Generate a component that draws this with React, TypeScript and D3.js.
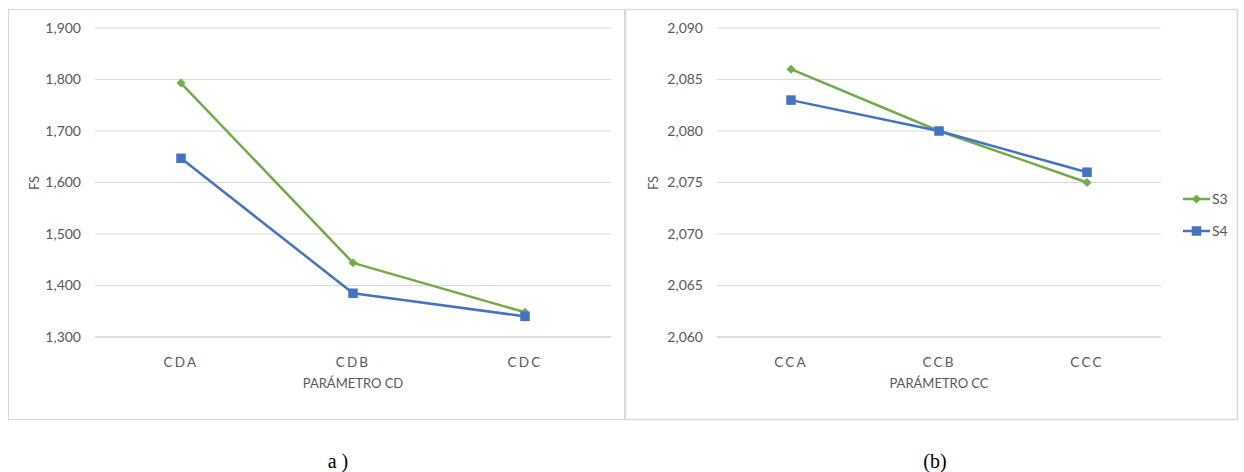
import React from "react";
import * as d3 from "d3";

const catsA = ["CDA", "CDB", "CDC"];
const s3A = [1.793, 1.444, 1.348];
const s4A = [1.647, 1.385, 1.340];
const ticksA = [1.3, 1.4, 1.5, 1.6, 1.7, 1.8, 1.9];

const catsB = ["CCA", "CCB", "CCC"];
const s3B = [2.086, 2.080, 2.075];
const s4B = [2.083, 2.080, 2.076];
const ticksB = [2.06, 2.065, 2.07, 2.075, 2.08, 2.085, 2.09];

const seriesNames = ["S3", "S4"];
const GREEN = "#70AD47";
const BLUE = "#4472C4";
const GRID = "#d9d9d9";
const TXT = "#595959";
const FONT = "Lato, 'Open Sans', sans-serif";

const loc = d3.formatLocale({ decimal: ",", thousands: ".", grouping: [3], currency: ["", ""] });
const fmt = loc.format(".3f");

function Diamond({ x, y, r, color }: { x: number; y: number; r: number; color: string }) {
  return <path d={`M${x},${y - r}L${x + r},${y}L${x},${y + r}L${x - r},${y}Z`} fill={color} />;
}
function Square({ x, y, s, color }: { x: number; y: number; s: number; color: string }) {
  return <rect x={x - s / 2} y={y - s / 2} width={s} height={s} fill={color} />;
}

function Panel({
  cats, s3, s4, ticks, x0, x1, labelX, fsX, title,
}: {
  cats: string[]; s3: number[]; s4: number[]; ticks: number[];
  x0: number; x1: number; labelX: number; fsX: number; title: string;
}) {
  const x = d3.scaleBand<string>().domain(cats).range([x0, x1]).padding(0);
  const cx = (c: string) => (x(c) as number) + x.bandwidth() / 2;
  const y = d3.scaleLinear().domain([ticks[0], ticks[ticks.length - 1]]).range([337, 28]);
  const line = d3.line<number>().x((_, i) => cx(cats[i])).y((d) => y(d));
  return (
    <g>
      {ticks.map((t, i) => (
        <g key={t}>
          <line x1={x0} x2={x1} y1={y(t)} y2={y(t)} stroke={i === 0 ? "#bfbfbf" : GRID} strokeWidth={1} />
          <text x={labelX} y={y(t)} dy="0.35em" textAnchor="end" fontSize={14} fill={TXT} fontFamily={FONT}>
            {fmt(t)}
          </text>
        </g>
      ))}
      {cats.map((c) => (
        <text key={c} x={cx(c)} y={367} textAnchor="middle" fontSize={13.5} fill={TXT} fontFamily={FONT} letterSpacing={2.2}>
          {c}
        </text>
      ))}
      <text x={(x0 + x1) / 2} y={388} textAnchor="middle" fontSize={13} fill={TXT} fontFamily={FONT}>
        {title}
      </text>
      <text transform={`translate(${fsX},183) rotate(-90)`} textAnchor="middle" dy="0.35em" fontSize={13} fill={TXT} fontFamily={FONT}>
        FS
      </text>
      <path d={line(s3) || ""} fill="none" stroke={GREEN} strokeWidth={2.5} strokeLinejoin="round" />
      <path d={line(s4) || ""} fill="none" stroke={BLUE} strokeWidth={2.5} strokeLinejoin="round" />
      {s3.map((v, i) => (
        <Diamond key={"d" + i} x={cx(cats[i])} y={y(v)} r={4.5} color={GREEN} />
      ))}
      {s4.map((v, i) => (
        <Square key={"s" + i} x={cx(cats[i])} y={y(v)} s={9.5} color={BLUE} />
      ))}
    </g>
  );
}

export default function App() {
  return (
    <svg width={1244} height={472} style={{ position: "absolute", left: 0, top: 0, background: "#fff" }}>
      <rect x={0} y={0} width={1244} height={472} fill="#fff" />
      <rect x={8.5} y={9.5} width={616} height={410} fill="none" stroke={GRID} strokeWidth={1} />
      <rect x={625.5} y={9.5} width={612} height={410} fill="none" stroke={GRID} strokeWidth={1.5} />
      <Panel cats={catsA} s3={s3A} s4={s4A} ticks={ticksA} x0={95} x1={611} labelX={81} fsX={34} title="PARÁMETRO CD" />
      <Panel cats={catsB} s3={s3B} s4={s4B} ticks={ticksB} x0={717} x1={1161} labelX={703} fsX={653} title="PARÁMETRO CC" />
      {seriesNames.map((n, i) => {
        const ly = 199 + i * 32;
        const c = i === 0 ? GREEN : BLUE;
        return (
          <g key={n}>
            <line x1={1183} x2={1210} y1={ly} y2={ly} stroke={c} strokeWidth={2.5} />
            {i === 0 ? <Diamond x={1196.5} y={ly} r={4.5} color={c} /> : <Square x={1196.5} y={ly} s={9.5} color={c} />}
            <text x={1212} y={ly} dy="0.35em" fontSize={14} fill={TXT} fontFamily={FONT}>
              {n}
            </text>
          </g>
        );
      })}
      <text x={338} y={468} textAnchor="middle" fontSize={20} fontFamily="'Liberation Serif', 'DejaVu Serif', serif" fill="#000">
        a )
      </text>
      <text x={935} y={468} textAnchor="middle" fontSize={20} fontFamily="'Liberation Serif', 'DejaVu Serif', serif" fill="#000">
        (b)
      </text>
    </svg>
  );
}
